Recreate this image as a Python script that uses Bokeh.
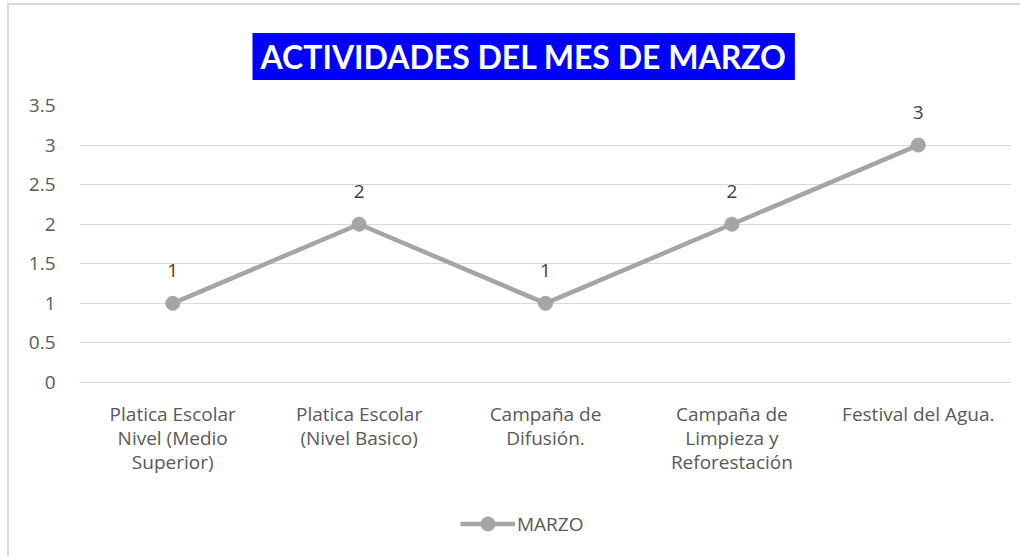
from bokeh.plotting import figure
from bokeh.layouts import column
from bokeh.models import ColumnDataSource, Legend, LegendItem, FixedTicker, Range1d
from bokeh.core.properties import value
from bokeh.embed import file_html
from bokeh.resources import INLINE

categories = [
    "Platica Escolar\nNivel (Medio\nSuperior)",
    "Platica Escolar\n(Nivel Basico)",
    "Campaña de\nDifusión.",
    "Campaña de\nLimpieza y\nReforestación",
    "Festival del Agua.",
]
marzo = [1, 2, 1, 2, 3]
y_ticks = [0, 0.5, 1, 1.5, 2, 2.5, 3, 3.5]
y_tick_labels = ["0", "0.5", "1", "1.5", "2", "2.5", "3", "3.5"]
title_text = "ACTIVIDADES DEL MES DE MARZO"
series_name = "MARZO"

FONT = "Open Sans"
TXT = "#595959"
GRID = "#D9D9D9"
LINE = "#A5A5A5"

src = ColumnDataSource(dict(x=categories, y=marzo, lab=[str(v) for v in marzo]))

p = figure(
    x_range=categories,
    y_range=Range1d(0, 3.5),
    frame_width=932,
    frame_height=277,
    output_backend="svg",
    toolbar_location=None,
    min_border_left=70,
    min_border_right=9,
    min_border_top=100,
    min_border_bottom=110,
)
p.outline_line_color = None

p.title.text = title_text
p.title.text_font = "Lato"
p.title.text_font_size = "32px"
p.title.text_font_style = "bold"
p.title.text_color = "white"
p.title.align = "left"
p.title.offset = 173
p.title.background_fill_color = "#0000FF"
p.title.padding = (8, 4)
p.title.standoff = 51

p.yaxis.ticker = FixedTicker(ticks=y_ticks)
p.yaxis.major_label_overrides = {t: l for t, l in zip(y_ticks, y_tick_labels)}
p.yaxis.axis_line_color = None
p.yaxis.major_tick_line_color = None
p.yaxis.minor_tick_line_color = None
p.yaxis.major_label_text_font = FONT
p.yaxis.major_label_text_font_size = "19px"
p.yaxis.major_label_text_color = TXT
p.yaxis.major_label_standoff = 18

p.xaxis.axis_line_color = GRID
p.xaxis.axis_line_width = 1
p.xaxis.major_tick_line_color = None
p.xaxis.minor_tick_line_color = None
p.xaxis.major_label_text_font = FONT
p.xaxis.major_label_text_font_size = "19px"
p.xaxis.major_label_text_color = TXT
p.xaxis.major_label_text_line_height = 0.93
p.xaxis.major_label_standoff = 12
p.xaxis.major_label_orientation = "horizontal"

p.xgrid.grid_line_color = None
p.ygrid.grid_line_color = GRID
p.ygrid.grid_line_width = 1

p.line("x", "y", source=src, line_color=LINE, line_width=4.5)
p.scatter("x", "y", source=src, size=14, fill_color=LINE, line_color=LINE)

p.text("x", "y", text="lab", source=src, text_font=value(FONT), text_font_size="19px",
       text_color="#404040", text_align="center", text_baseline="middle", y_offset=-33)

# legend strip below the chart (its renderers lie outside the visible ranges)
lp = figure(width=1011, height=64, output_backend="svg", toolbar_location=None,
            x_axis_type=None, y_axis_type=None, x_range=Range1d(0, 1), y_range=Range1d(0, 1),
            min_border=0)
lp.outline_line_color = None
lp.grid.grid_line_color = None
offscreen = ColumnDataSource(dict(x=[-10, -9], y=[-10, -10]))
lr = lp.line("x", "y", source=offscreen, line_color=LINE, line_width=4.5)
ls = lp.scatter("x", "y", source=offscreen, size=14, fill_color=LINE, line_color=LINE)
legend = Legend(items=[LegendItem(label=series_name, renderers=[lr, ls])],
                orientation="horizontal", location=(381, 15),
                label_text_font=FONT, label_text_font_size="19px", label_text_color=TXT,
                border_line_color=None, background_fill_alpha=0,
                glyph_width=55, glyph_height=35, label_height=35,
                label_standoff=2, margin=0, padding=0)
lp.add_layout(legend, "center")

layout = column(p, lp, spacing=0)
layout.styles = {"margin": "3px 0 0 7px",
                 "border-top": "2px solid #d9d9d9", "border-left": "2px solid #d9d9d9"}

open("out.html", "w").write(file_html(layout, INLINE))
